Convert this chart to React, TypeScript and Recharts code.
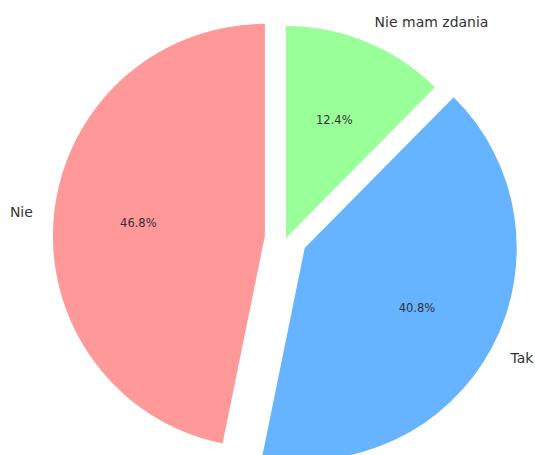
import React from 'react';
import { PieChart, Pie, Cell } from 'recharts';

const categories = ['Nie', 'Tak', 'Nie mam zdania'];
const values = [46.8, 40.8, 12.4];
const colors = ['#ff9999', '#66b3ff', '#99ff99'];
const explode = [0.1, 0.1, 0];

const data = categories.map((name, i) => ({ name, value: values[i] }));

const W = 535;
const H = 455;
const CX = 286;
const CY = 238;
const R = 212;
const START = 90;
const RAD = Math.PI / 180;
const FONT = '"DejaVu Sans", Verdana, sans-serif';

const total = values.reduce((a, b) => a + b, 0);
const midAngles: number[] = [];
{
  let acc = START;
  values.forEach((v) => {
    const span = (v / total) * 360;
    midAngles.push(acc + span / 2);
    acc += span;
  });
}

const makeLabel = (idx: number) => (props: any) => {
  if (props.index !== idx) return null;
  const cx = Number(props.cx);
  const cy = Number(props.cy);
  const mid = Number(props.midAngle);
  const cos = Math.cos(mid * RAD);
  const sin = Math.sin(mid * RAD);
  const px = cx + 0.6 * R * cos;
  const py = cy - 0.6 * R * sin;
  const lx = cx + 1.1 * R * cos;
  const ly = cy - 1.1 * R * sin;
  const pct = ((Number(props.value) / total) * 100).toFixed(1) + '%';
  return (
    <g>
      <text x={px} y={py} textAnchor="middle" dominantBaseline="central" fill="#333" fontSize={11.5} fontFamily={FONT}>
        {pct}
      </text>
      <text x={lx} y={ly} textAnchor={cos >= 0 ? 'start' : 'end'} dominantBaseline="central" fill="#333" fontSize={14} fontFamily={FONT}>
        {props.name}
      </text>
    </g>
  );
};

export default function App() {
  return (
    <div style={{ position: 'absolute', left: 0, top: 0, background: '#fff' }}>
      <PieChart width={W} height={H} margin={{ top: 0, right: 0, bottom: 0, left: 0 }}>
        {categories.map((cat, i) => {
          const d = explode[i] * R;
          const cx = CX + d * Math.cos(midAngles[i] * RAD);
          const cy = CY - d * Math.sin(midAngles[i] * RAD);
          return (
            <Pie
              key={cat}
              data={data}
              dataKey="value"
              nameKey="name"
              cx={cx}
              cy={cy}
              outerRadius={R}
              innerRadius={0}
              startAngle={START}
              endAngle={START + 360}
              stroke="none"
              isAnimationActive={false}
              labelLine={false}
              label={makeLabel(i)}
            >
              {data.map((_, j) => (
                <Cell key={j} fill={j === i ? colors[j] : 'none'} stroke="none" />
              ))}
            </Pie>
          );
        })}
      </PieChart>
    </div>
  );
}
